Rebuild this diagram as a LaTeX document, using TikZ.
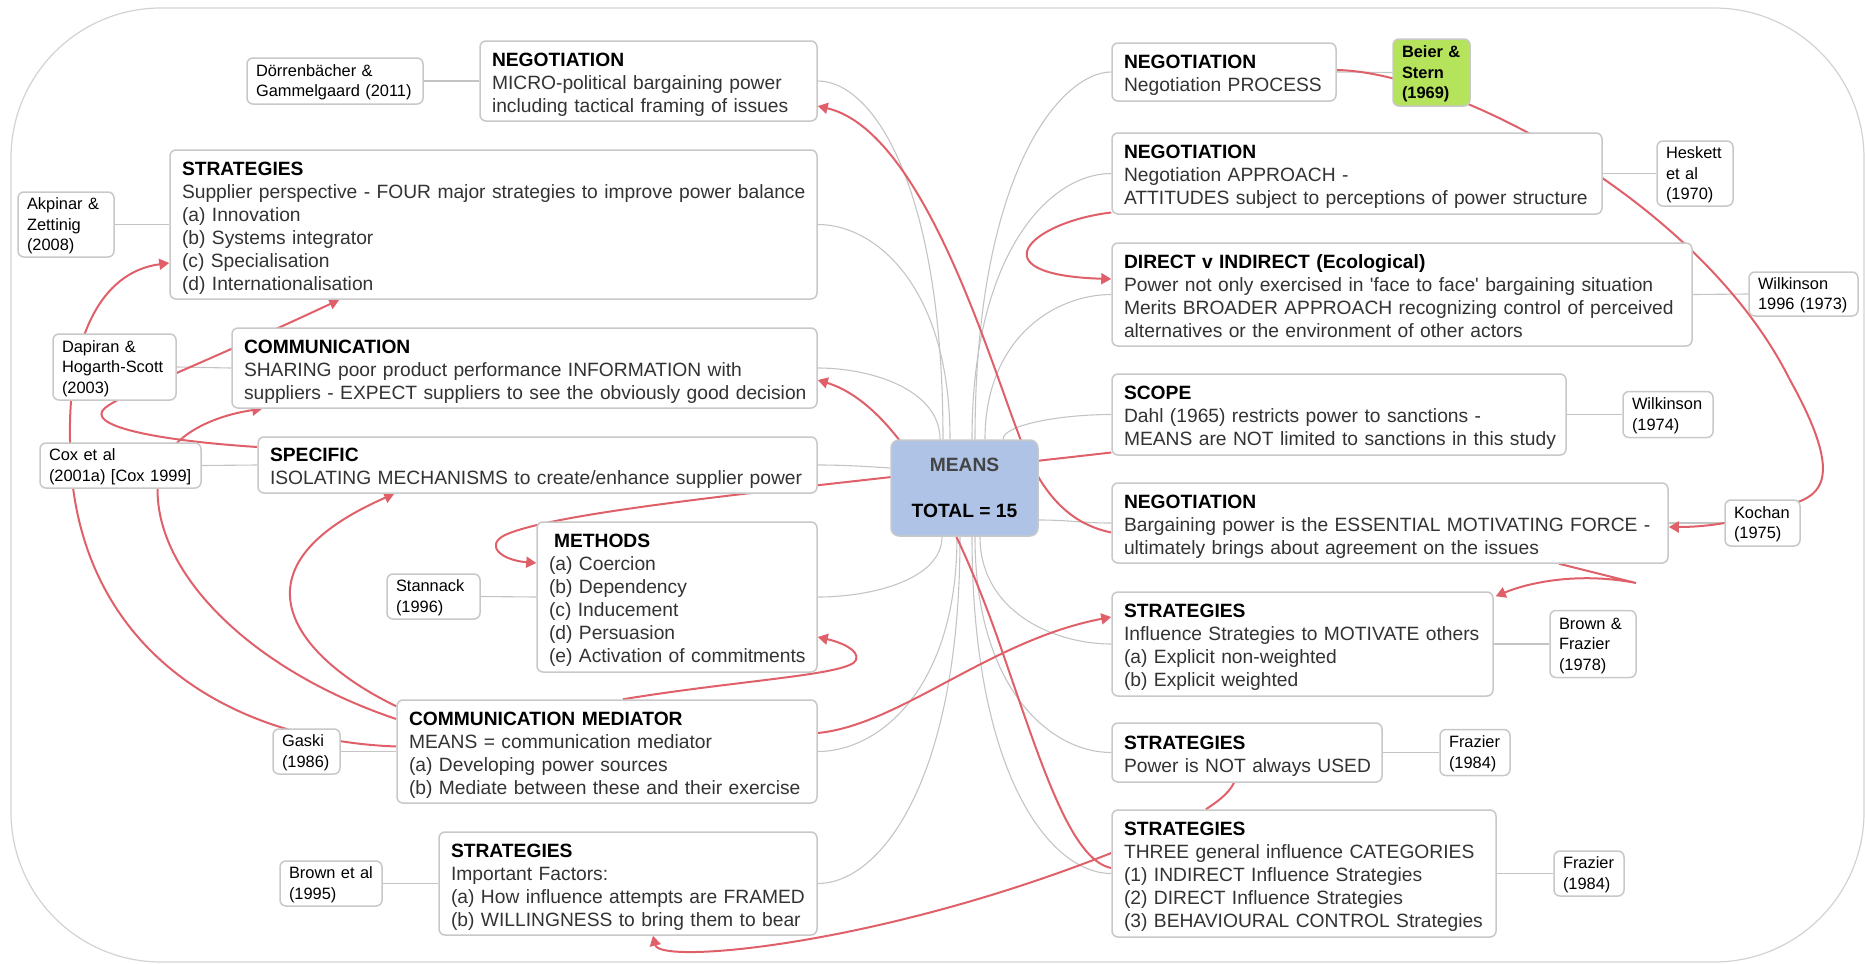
\documentclass[tikz,border=0pt]{standalone}
\usepackage{fontspec}
\setmainfont{Liberation Sans}
\usetikzlibrary{arrows.meta,calc}

\definecolor{boxgray}{HTML}{C8C8C8}
\definecolor{framegray}{HTML}{D2D2D2}
\definecolor{linkgray}{HTML}{C4C4C4}
\definecolor{relred}{HTML}{E0606A}
\definecolor{bodygray}{HTML}{333333}
\definecolor{meansblue}{HTML}{AEC3E6}
\definecolor{meansgray}{HTML}{444444}
\definecolor{beiergreen}{HTML}{B5E35B}

\newcommand{\mainsize}{\fontsize{9.62pt}{11.5pt}\selectfont}
\newcommand{\refsize}{\fontsize{8.2pt}{10.25pt}\selectfont}
\newcommand{\hd}[1]{\textcolor{black}{\bfseries #1}}
% multi-line box content, nudged down a little inside its frame
\newcommand{\boxlines}[1]{\raisebox{-1.8pt}[\height][\depth]{\begin{tabular}{@{}l@{}}#1\end{tabular}}}
\newcommand{\reflines}[1]{\raisebox{-0.7pt}[\height][\depth]{\begin{tabular}{@{}l@{}}#1\end{tabular}}}

\pgfdeclarelayer{links}
\pgfdeclarelayer{relations}
\pgfsetlayers{links,relations,main}

\tikzset{
  mainbox/.style={draw=boxgray, line width=0.75pt, fill=white, rounded corners=3pt,
    inner xsep=6pt, inner ysep=0pt, align=left, font=\mainsize, text=bodygray},
  refbox/.style={draw=boxgray, line width=0.75pt, fill=white, rounded corners=3pt,
    inner xsep=4.5pt, inner ysep=0pt, align=left, font=\refsize, text=black},
  link/.style={draw=linkgray, line width=0.55pt},
  rel/.style={draw=relred, line width=1pt},
  relarrow/.style={rel, -{Triangle[length=5pt,width=5.5pt]}},
}

\begin{document}
\begin{tikzpicture}[x=0.5pt,y=-0.5pt]
\useasboundingbox (0,0) rectangle (1865,964);

% outer frame
\draw[framegray, line width=0.6pt, rounded corners=75pt] (11,8) rectangle (1864,962);

% ---- central node
\node[draw=boxgray, line width=0.75pt, fill=meansblue, rounded corners=4pt,
      minimum width=73.5pt, minimum height=48pt, inner sep=0pt, align=center,
      font=\mainsize\bfseries] (means) at (964.5,488)
      {\textcolor{meansgray}{MEANS}\\[11.5pt]\textcolor{black}{TOTAL = 15}};

% ---- left branch
\node[mainbox, minimum width=168.5pt, text width=156.5pt, minimum height=40pt] (negM) at (648.5,81)
  {\boxlines{\hd{NEGOTIATION}\\MICRO-political bargaining power\\including tactical framing of issues}};
\node[mainbox, minimum width=323.5pt, text width=311.5pt, minimum height=74.5pt] (strS) at (493.5,224.5)
  {\boxlines{\hd{STRATEGIES}\\Supplier perspective - FOUR major strategies to improve power balance\\(a) Innovation\\(b) Systems integrator\\(c) Specialisation\\(d) Internationalisation}};
\node[mainbox, minimum width=292.5pt, text width=280.5pt, minimum height=40pt] (comm) at (524.5,368)
  {\boxlines{\hd{COMMUNICATION}\\SHARING poor product performance INFORMATION with\\suppliers - EXPECT suppliers to see the obviously good decision}};
\node[mainbox, minimum width=279.5pt, text width=267.5pt, minimum height=28pt] (spec) at (537.5,465)
  {\boxlines{\hd{SPECIFIC}\\ISOLATING MECHANISMS to create/enhance supplier power}};
\node[mainbox, minimum width=140pt, text width=128pt, minimum height=75pt] (meth) at (677,597)
  {\boxlines{\hd{\hspace*{2.5pt}METHODS}\\(a) Coercion\\(b) Dependency\\(c) Inducement\\(d) Persuasion\\(e) Activation of commitments}};
\node[mainbox, minimum width=210pt, text width=198pt, minimum height=51.5pt] (cmed) at (607,751.5)
  {\boxlines{\hd{COMMUNICATION MEDIATOR}\\MEANS = communication mediator\\(a) Developing power sources\\(b) Mediate between these and their exercise}};
\node[mainbox, minimum width=189pt, text width=177pt, minimum height=51.5pt] (impf) at (628,883.5)
  {\boxlines{\hd{STRATEGIES}\\Important Factors:\\(a) How influence attempts are FRAMED\\(b) WILLINGNESS to bring them to bear}};

% ---- left references
\node[refbox, minimum width=88pt, text width=79pt, minimum height=23pt] (dorr) at (335,81)
  {\reflines{Dörrenbächer \&\\Gammelgaard (2011)}};
\node[refbox, minimum width=48pt, text width=39pt, minimum height=32.5pt] (akp) at (66,224.5)
  {\reflines{Akpinar \&\\Zettinig\\(2008)}};
\node[refbox, minimum width=61.5pt, text width=52.5pt, minimum height=33pt] (dap) at (114.5,367)
  {\reflines{Dapiran \&\\Hogarth-Scott\\(2003)}};
\node[refbox, minimum width=80.5pt, text width=71.5pt, minimum height=22.5pt] (cox) at (120.5,465.5)
  {\reflines{Cox et al\\(2001a) [Cox 1999]}};
\node[refbox, minimum width=46.5pt, text width=37.5pt, minimum height=22.5pt] (stan) at (433.5,596.5)
  {\reflines{Stannack\\(1996)}};
\node[refbox, minimum width=33.5pt, text width=24.5pt, minimum height=22.5pt] (gaski) at (306.5,751.5)
  {\reflines{Gaski\\(1986)}};
\node[refbox, minimum width=51pt, text width=42pt, minimum height=22.5pt] (browe) at (331,883.5)
  {\reflines{Brown et al\\(1995)}};

% ---- right branch
\node[mainbox, minimum width=112pt, text width=100pt, minimum height=29pt] (negP) at (1224,72)
  {\boxlines{\hd{NEGOTIATION}\\Negotiation PROCESS}};
\node[mainbox, minimum width=245pt, text width=233pt, minimum height=40.5pt] (negA) at (1357,173.5)
  {\boxlines{\hd{NEGOTIATION}\\Negotiation APPROACH -\\ATTITUDES subject to perceptions of power structure}};
\node[mainbox, minimum width=290pt, text width=278pt, minimum height=51.5pt] (dir) at (1402,294.5)
  {\boxlines{\hd{DIRECT v INDIRECT (Ecological)}\\Power not only exercised in \textquotesingle face to face\textquotesingle\ bargaining situation\\Merits BROADER APPROACH recognizing control of perceived\\alternatives or the environment of other actors}};
\node[mainbox, minimum width=227pt, text width=215pt, minimum height=40.5pt] (scope) at (1339,414.5)
  {\boxlines{\hd{SCOPE}\\Dahl (1965) restricts power to sanctions -\\MEANS are NOT limited to sanctions in this study}};
\node[mainbox, minimum width=278pt, text width=266pt, minimum height=40pt] (negB) at (1390,523)
  {\boxlines{\hd{NEGOTIATION}\\Bargaining power is the ESSENTIAL MOTIVATING FORCE -\\ultimately brings about agreement on the issues}};
\node[mainbox, minimum width=190.5pt, text width=178.5pt, minimum height=52pt] (strI) at (1302.5,644)
  {\boxlines{\hd{STRATEGIES}\\Influence Strategies to MOTIVATE others\\(a) Explicit non-weighted\\(b) Explicit weighted}};
\node[mainbox, minimum width=135pt, text width=123pt, minimum height=29.5pt] (pnot) at (1247,752.5)
  {\boxlines{\hd{STRATEGIES}\\Power is NOT always USED}};
\node[mainbox, minimum width=192pt, text width=180pt, minimum height=63.5pt] (three) at (1304,873.5)
  {\boxlines{\hd{STRATEGIES}\\THREE general influence CATEGORIES\\(1) INDIRECT Influence Strategies\\(2) DIRECT Influence Strategies\\(3) BEHAVIOURAL CONTROL Strategies}};

% ---- right references
\node[refbox, fill=beiergreen, minimum width=38.5pt, text width=29.5pt, minimum height=33.5pt, font=\refsize\bfseries] (beier) at (1431.5,72.5)
  {\reflines{Beier \&\\Stern\\(1969)}};
\node[refbox, minimum width=38pt, text width=29pt, minimum height=32.5pt] (hesk) at (1695,173.5)
  {\reflines{Heskett\\et al\\(1970)}};
\node[refbox, minimum width=54.5pt, text width=45.5pt, minimum height=22pt] (wil96) at (1803.5,294)
  {\reflines{Wilkinson\\1996 (1973)}};
\node[refbox, minimum width=45pt, text width=36pt, minimum height=23pt] (wil74) at (1668,414.5)
  {\reflines{Wilkinson\\(1974)}};
\node[refbox, minimum width=37.5pt, text width=28.5pt, minimum height=23pt] (koch) at (1762.5,523)
  {\reflines{Kochan\\(1975)}};
\node[refbox, minimum width=43pt, text width=34pt, minimum height=33.5pt] (brfr) at (1593,644)
  {\reflines{Brown \&\\Frazier\\(1978)}};
\node[refbox, minimum width=35pt, text width=26pt, minimum height=23pt] (fraz1) at (1475,752.5)
  {\reflines{Frazier\\(1984)}};
\node[refbox, minimum width=35pt, text width=26pt, minimum height=22.5pt] (fraz2) at (1589,873.5)
  {\reflines{Frazier\\(1984)}};

% ---- grey tree links from the central node
\begin{pgfonlayer}{links}
\draw[link] ($(means.north)+(-21.5,0)$) .. controls (943,189) and (874,81) .. (negM.east);
\draw[link] ($(means.north)+(-14.5,0)$) .. controls (950,289) and (877,224.5) .. (strS.east);
\draw[link] ($(means.north)+(-24.5,0)$) .. controls (940,390) and (872,368) .. (comm.east);
\draw[link] ($(means.west)+(0,-20)$) .. controls (860,466) and (840,465) .. (spec.east);
\draw[link] ($(means.south)+(-22.5,0)$) .. controls (942,579) and (873,597) .. (meth.east);
\draw[link] ($(means.south)+(-7.5,0)$) .. controls (957,687) and (880,751.5) .. (cmed.east);
\draw[link] ($(means.south)+(-4.5,0)$) .. controls (960,779) and (881,883.5) .. (impf.east);
\draw[link] ($(means.north)+(10.5,0)$) .. controls (975,170) and (1062,72) .. (negP.west);
\draw[link] ($(means.north)+(7.5,0)$) .. controls (972,254) and (1049,173.5) .. (negA.west);
\draw[link] ($(means.north)+(20.5,0)$) .. controls (985,338) and (1055,294.5) .. (dir.west);
\draw[link] ($(means.north)+(38.5,0)$) .. controls (1003,425) and (1060,414.5) .. (scope.west);
\draw[link] ($(means.east)+(0,32)$) .. controls (1070,520) and (1080,523) .. (negB.west);
\draw[link] ($(means.south)+(15.5,0)$) .. controls (980,611) and (1053,644) .. (strI.west);
\draw[link] ($(means.south)+(10.5,0)$) .. controls (975,688) and (1050,752.5) .. (pnot.west);
\draw[link] ($(means.south)+(7.5,0)$) .. controls (972,772) and (1049,873.5) .. (three.west);
% reference links
\draw[link] (dorr.east) -- (negM.west);
\draw[link] (akp.east) -- (strS.west);
\draw[link] (dap.east) -- (comm.west);
\draw[link] (cox.east) -- (spec.west);
\draw[link] (stan.east) -- (meth.west);
\draw[link] (gaski.east) -- (cmed.west);
\draw[link] (browe.east) -- (impf.west);
\draw[link] (negP.east) -- (beier.west);
\draw[link] (negA.east) -- (hesk.west);
\draw[link] (dir.east) -- (wil96.west);
\draw[link] (scope.east) -- (wil74.west);
\draw[link] (negB.east) -- (koch.west);
\draw[link] (strI.east) -- (brfr.west);
\draw[link] (pnot.east) -- (fraz1.west);
\draw[link] (three.east) -- (fraz2.west);
\end{pgfonlayer}

% ---- red cross relations
\begin{pgfonlayer}{relations}
\draw[relarrow] ($(negB.west)+(0,9.5)$) .. controls (1060,522) and (1035,480) .. (1017,430)
  .. controls (985,345) and (920,130) .. ($(negM.east)+(0,25)$);
\draw[relarrow] ($(three.west)+(0,-5.5)$) .. controls (1070,860) and (1040,760) .. (1000,645)
  .. controls (960,530) and (900,405) .. ($(comm.east)+(0,12)$);
\draw[relarrow] ($(scope.west)+(0,38)$) .. controls (800,488) and (560,510) .. (505,535)
  .. controls (485,545) and (500,560) .. ($(meth.west)+(0,-34)$);
\draw[relarrow] ($(cmed.north)+(16,0)$) .. controls (740,680) and (850,675) .. (856,660)
  .. controls (860,650) and (840,642) .. ($(meth.east)+(0,40)$);
\draw[relarrow] ($(cmed.east)+(0,-18.5)$) .. controls (900,725) and (990,640) .. ($(strI.west)+(0,-27)$);
\draw[relarrow] ($(three.west)+(0,-20.5)$) .. controls (880,945) and (660,965) .. ($(impf.south)+(25,0)$);
\draw[rel] ($(pnot.south)+(-13,0)$) .. controls (1228,795) and (1215,803) .. ($(three.north)+(-98,0)$);
\draw[relarrow] ($(negA.west)+(0,39)$) .. controls (1030,222) and (975,275) .. ($(dir.west)+(0,-15.5)$);
\draw[relarrow] ($(negP.east)+(0,-2)$) .. controls (1450,72) and (1700,200) .. (1790,380)
  .. controls (1840,470) and (1825,492) .. (1798,502)
  .. controls (1770,512) and (1730,527) .. ($(negB.east)+(0,4)$);
\draw[relarrow] ($(negB.south)+(169,0)$) -- (1636,583) .. controls (1580,572) and (1530,582) .. ($(strI.north east)+(2,5)$);
\draw[relarrow] ($(cmed.west)+(0,-5)$) .. controls (220,740) and (70,640) .. (70,440)
  .. controls (68,340) and (100,272) .. ($(strS.west)+(0,38.5)$);
\draw[relarrow] ($(cmed.west)+(0,-32.5)$) .. controls (250,670) and (150,570) .. (158,480)
  .. controls (165,430) and (225,414) .. ($(comm.south west)+(31,0)$);
\draw[relarrow] ($(cmed.north west)+(0,7)$) .. controls (300,660) and (220,570) .. ($(spec.south west)+(137,0)$);
\draw[relarrow] ($(spec.west)+(0,-18)$) .. controls (150,440) and (85,425) .. (105,408)
  .. controls (120,395) and (200,365) .. ($(strS.south west)+(170,0)$);
\end{pgfonlayer}
\end{tikzpicture}
\end{document}
